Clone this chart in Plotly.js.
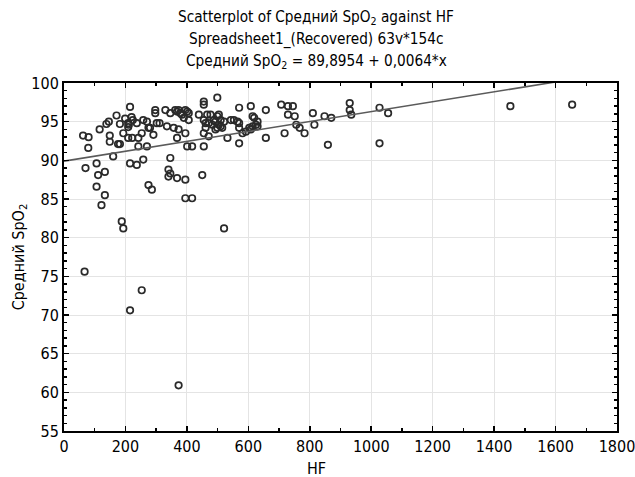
<!DOCTYPE html>
<html>
<head>
<meta charset="utf-8">
<script src="https://cdn.plot.ly/plotly-3.0.1.min.js"></script>
<style>html,body{margin:0;padding:0;background:#fff;}#chart{width:635px;height:477px;}</style>
</head>
<body>
<div id="chart"></div>
<script>
// HF values (x)
var hf = [62,80,79,116,138,146,171,215,149,149,176,182,160,193,182,199,209,209,211,220,
  224,237,209,222,242,253,258,270,275,280,291,297,297,302,311,242,270,258,215,237,
  106,70,111,133,106,133,122,275,286,188,193,67,253,215,330,346,362,368,373,379,
  384,390,395,401,406,406,335,357,373,395,368,401,417,346,340,346,340,368,395,395,
  417,373,439,455,455,499,455,466,477,488,499,504,510,521,461,471,483,493,504,510,
  515,499,493,461,455,471,455,450,521,532,543,553,565,570,570,570,581,570,592,603,
  608,614,608,614,619,625,630,630,657,657,707,729,745,729,751,718,756,767,783,810,
  815,848,870,859,930,930,935,1027,1055,1027,1453,1654];
// Mean SpO2 values (y)
var spo2 = [93.2,93.0,91.6,94.0,94.7,95.0,95.8,96.9,93.2,92.4,92.1,92.1,90.5,93.5,94.7,95.4,94.8,94.3,94.6,95.6,
  95.2,94.8,92.9,92.9,92.9,93.5,95.2,95.0,94.2,94.2,93.3,96.5,96.1,94.8,94.8,91.8,91.8,90.1,89.6,89.4,
  89.6,89.0,88.1,88.5,86.6,85.5,84.2,86.8,86.2,82.1,81.2,75.6,73.2,70.6,96.5,96.1,96.5,96.3,96.5,96.1,
  95.9,95.5,96.5,96.3,96.1,95.2,94.4,94.2,94.0,93.5,92.9,91.8,91.8,90.3,88.8,88.3,87.9,87.7,87.5,85.1,
  85.1,60.9,95.9,97.6,97.2,98.1,95.2,95.9,95.9,95.2,95.7,95.9,95.2,95.0,94.8,94.8,94.6,95.0,94.6,94.4,
  94.2,94.2,94.0,94.2,93.5,93.1,91.8,88.1,81.2,92.9,95.2,95.2,95.0,94.8,96.8,94.2,93.5,92.2,93.7,94.2,
  94.0,94.4,97.0,95.7,95.5,94.6,95.0,94.4,96.5,92.9,97.2,97.0,97.0,95.9,95.7,93.5,94.6,94.2,93.5,96.1,
  94.6,95.7,95.5,92.0,97.4,96.5,95.9,96.8,96.1,92.2,97.0,97.2];
// Regression: Средний SpO2 = 89,8954 + 0,0064*x
var intercept = 89.8954, slope = 0.0064;
var fitX = [0, 1800];
var fitY = fitX.map(function(x){ return intercept + slope * x; });

var xTicks = [0,200,400,600,800,1000,1200,1400,1600,1800];
var yTicks = [55,60,65,70,75,80,85,90,95,100];

var titleLines = [
  'Scatterplot of Средний SpO<sub>2</sub> against HF',
  'Spreadsheet1_(Recovered) 63v*154c',
  'Средний SpO<sub>2</sub> = 89,8954 + 0,0064*x'
];
var xTitle = 'HF';
var yTitle = 'Средний SpO<sub>2</sub>';

var FONT = '"DejaVu Sans Condensed", "Liberation Sans Narrow", sans-serif';

var traces = [
  {x: hf, y: spo2, type: 'scatter', mode: 'markers', cliponaxis: false,
   marker: {symbol: 'circle-open', size: 6.5, color: '#2a2a2a', line: {width: 1.7, color: '#2a2a2a'}},
   hoverinfo: 'x+y', showlegend: false},
  {x: fitX, y: fitY, type: 'scatter', mode: 'lines',
   line: {color: '#5a5a5a', width: 1.6}, showlegend: false}
];

var axisCommon = {
  showline: true, linecolor: '#000', linewidth: 2, mirror: 'ticks',
  ticks: 'inside', ticklen: 5, tickwidth: 1.5, tickcolor: '#000',
  showgrid: true, gridcolor: '#e4e4e4', gridwidth: 1, zeroline: false,
  ticklabeloverflow: 'allow',
  tickfont: {family: FONT, size: 16, color: '#000'}
};

var titleY = [1.188, 1.1246, 1.0613];
var annotations = titleLines.map(function(t, i){
  return {text: t, xref: 'paper', yref: 'paper', x: 0.4566, y: titleY[i],
          xanchor: 'center', yanchor: 'middle', showarrow: false,
          font: {family: FONT, size: 15.2, color: '#000'}};
});
annotations.push({text: xTitle, xref: 'paper', yref: 'paper', x: 0.4566, y: -0.107,
  xanchor: 'center', yanchor: 'middle', showarrow: false,
  font: {family: FONT, size: 16, color: '#000'}});

var layout = {
  width: 635, height: 477,
  paper_bgcolor: '#fff', plot_bgcolor: '#fff',
  margin: {l: 64, r: 18, t: 83, b: 46},
  font: {family: FONT, color: '#000'},
  annotations: annotations,
  xaxis: Object.assign({}, axisCommon, {
    range: [0, 1800], tickvals: xTicks, ticktext: xTicks.map(String),
    minor: {dtick: 100, ticks: 'inside', ticklen: 3, tickcolor: '#000', showgrid: false}
  }),
  yaxis: Object.assign({}, axisCommon, {
    range: [55, 100], tickvals: yTicks, ticktext: yTicks.map(String),
    minor: {dtick: 1, ticks: 'inside', ticklen: 3, tickcolor: '#000', showgrid: false},
    title: {text: yTitle, font: {family: FONT, size: 16, color: '#000'}, standoff: 3}
  })
};

Plotly.newPlot('chart', traces, layout, {displayModeBar: false, staticPlot: true});
</script>
</body>
</html>
